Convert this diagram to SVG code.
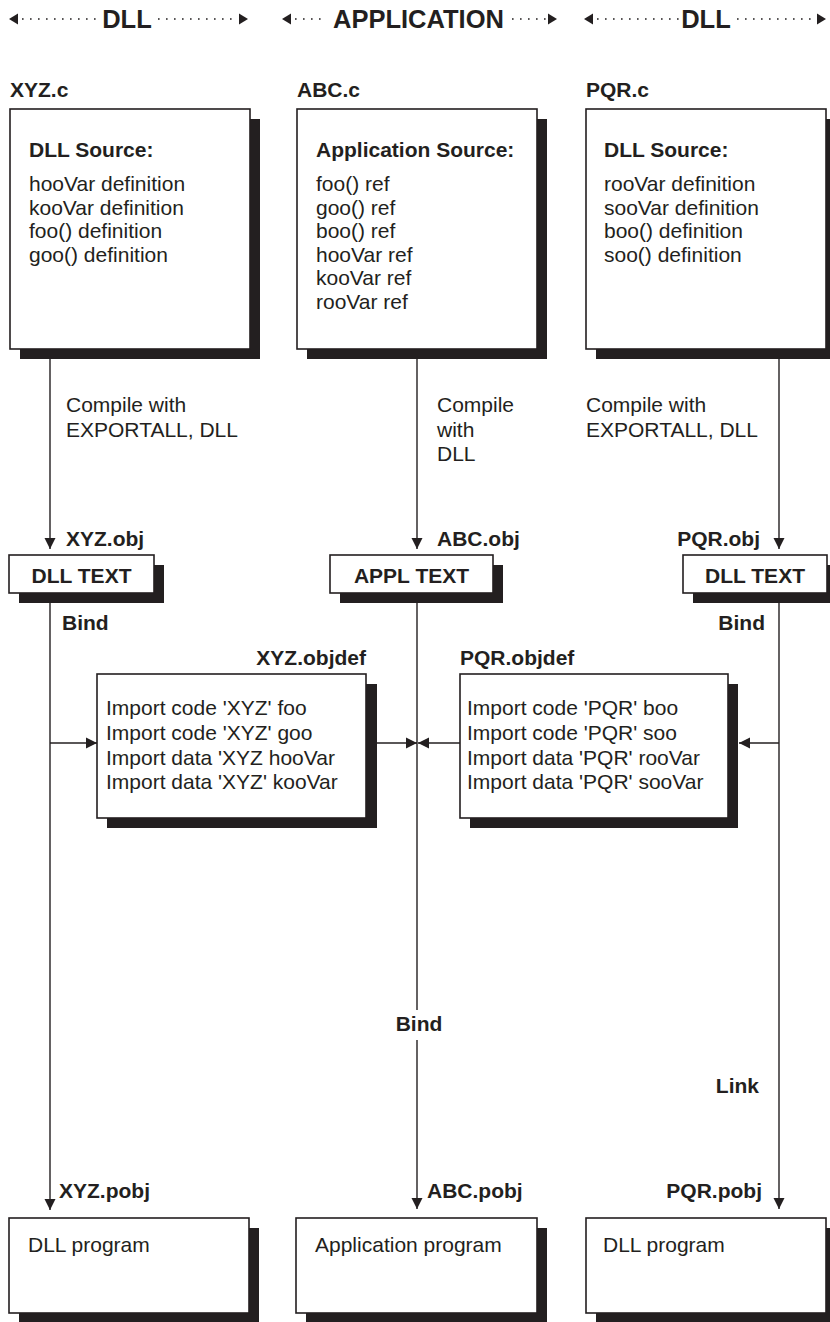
<svg xmlns="http://www.w3.org/2000/svg" width="830" height="1322" viewBox="0 0 830 1322">
<defs>
<style>
text{font-family:"Liberation Sans",Arial,Helvetica,sans-serif;fill:#231f20;font-size:21px}
.b{font-weight:bold}
.h{font-weight:bold;font-size:25.5px}
.box{fill:#fff;stroke:#231f20;stroke-width:1.6}
.sh{fill:#231f20}
.ln{stroke:#231f20;stroke-width:1.4;fill:none}
.arr{marker-end:url(#arr)}
.dot{stroke:#231f20;stroke-width:1.6;stroke-dasharray:1.6 6.4;fill:none}
.ah{fill:#231f20}
</style>
<marker id="arr" markerUnits="userSpaceOnUse" markerWidth="12" markerHeight="12" refX="11" refY="6" orient="auto"><path d="M0,0.5 L11,6 L0,11.5 z" fill="#231f20"/></marker>
</defs>
<rect width="830" height="1322" fill="#fff"/>

<g id="header">
<path class="ah" d="M9,19 L18,13.5 L18,24.5 z"/>
<line class="dot" x1="22" y1="19" x2="99" y2="19"/>
<text class="h" x="127" y="28" text-anchor="middle">DLL</text>
<line class="dot" x1="158" y1="19" x2="236" y2="19"/>
<path class="ah" d="M248,19 L239,13.5 L239,24.5 z"/>

<path class="ah" d="M282,19 L291,13.5 L291,24.5 z"/>
<line class="dot" x1="295" y1="19" x2="326" y2="19"/>
<text class="h" x="418.5" y="28" text-anchor="middle">APPLICATION</text>
<line class="dot" x1="512" y1="19" x2="546" y2="19"/>
<path class="ah" d="M557,19 L548,13.5 L548,24.5 z"/>

<path class="ah" d="M584,19 L593,13.5 L593,24.5 z"/>
<line class="dot" x1="597" y1="19" x2="680" y2="19"/>
<text class="h" x="706" y="28" text-anchor="middle">DLL</text>
<line class="dot" x1="737" y1="19" x2="815" y2="19"/>
<path class="ah" d="M826,19 L817,13.5 L817,24.5 z"/>
</g>

<g id="connectors">
<line class="ln arr" x1="50" y1="355" x2="50" y2="549"/>
<line class="ln arr" x1="50" y1="593" x2="50" y2="1210"/>
<line class="ln arr" x1="50" y1="743" x2="97" y2="743"/>
<line class="ln arr" x1="417" y1="355" x2="417" y2="549"/>
<line class="ln" x1="417" y1="593" x2="417" y2="1010"/>
<line class="ln arr" x1="417" y1="1040" x2="417" y2="1209"/>
<line class="ln arr" x1="377" y1="743" x2="417" y2="743"/>
<line class="ln arr" x1="460" y1="743" x2="418" y2="743"/>
<line class="ln arr" x1="779" y1="355" x2="779" y2="549"/>
<line class="ln arr" x1="779" y1="593" x2="779" y2="1209"/>
<line class="ln arr" x1="779" y1="743" x2="739" y2="743"/>
<text x="66" y="412">Compile with</text>
<text x="66" y="436.5">EXPORTALL, DLL</text>
<text x="437" y="412">Compile</text>
<text x="437" y="436.5">with</text>
<text x="437" y="461">DLL</text>
<text x="586" y="412">Compile with</text>
<text x="586" y="436.5">EXPORTALL, DLL</text>
<text class="b" x="62" y="630">Bind</text>
<text class="b" x="765" y="630" text-anchor="end">Bind</text>
<text class="b" x="419" y="1031" text-anchor="middle">Bind</text>
<text class="b" x="759" y="1093" text-anchor="end">Link</text>
</g>

<g id="xyz-c">
<text class="b" x="10" y="97">XYZ.c</text>
<rect class="sh" x="20" y="119" width="240" height="240"/>
<rect class="box" x="10" y="109" width="240" height="240"/>
<text class="b" x="29" y="157">DLL Source:</text>
<text x="29" y="191">hooVar definition</text>
<text x="29" y="214.5">kooVar definition</text>
<text x="29" y="238">foo() definition</text>
<text x="29" y="261.5">goo() definition</text>
</g>

<g id="abc-c">
<text class="b" x="297" y="97">ABC.c</text>
<rect class="sh" x="307" y="119" width="240" height="240"/>
<rect class="box" x="297" y="109" width="240" height="240"/>
<text class="b" x="316" y="157">Application Source:</text>
<text x="316" y="191">foo() ref</text>
<text x="316" y="214.5">goo() ref</text>
<text x="316" y="238">boo() ref</text>
<text x="316" y="261.5">hooVar ref</text>
<text x="316" y="285">kooVar ref</text>
<text x="316" y="308.5">rooVar ref</text>
</g>

<g id="pqr-c">
<text class="b" x="586" y="97">PQR.c</text>
<rect class="sh" x="596" y="119" width="240" height="240"/>
<rect class="box" x="586" y="109" width="240" height="240"/>
<text class="b" x="604" y="157">DLL Source:</text>
<text x="604" y="191">rooVar definition</text>
<text x="604" y="214.5">sooVar definition</text>
<text x="604" y="238">boo() definition</text>
<text x="604" y="261.5">soo() definition</text>
</g>

<g id="xyz-obj">
<text class="b" x="66" y="546">XYZ.obj</text>
<rect class="sh" x="19" y="565" width="145" height="38"/>
<rect class="box" x="9" y="555" width="145" height="38"/>
<text class="b" x="81.5" y="583" text-anchor="middle">DLL TEXT</text>
</g>

<g id="abc-obj">
<text class="b" x="437" y="546">ABC.obj</text>
<rect class="sh" x="340" y="565" width="163" height="38"/>
<rect class="box" x="330" y="555" width="163" height="38"/>
<text class="b" x="411.5" y="583" text-anchor="middle">APPL TEXT</text>
</g>

<g id="pqr-obj">
<text class="b" x="760" y="546" text-anchor="end">PQR.obj</text>
<rect class="sh" x="693" y="565" width="144" height="38"/>
<rect class="box" x="683" y="555" width="144" height="38"/>
<text class="b" x="755" y="583" text-anchor="middle">DLL TEXT</text>
</g>

<g id="xyz-objdef">
<text class="b" x="366" y="665" text-anchor="end">XYZ.objdef</text>
<rect class="sh" x="107" y="684" width="270" height="144"/>
<rect class="box" x="97" y="674" width="269" height="144"/>
<text x="106" y="715">Import code 'XYZ' foo</text>
<text x="106" y="740">Import code 'XYZ' goo</text>
<text x="106" y="764.5">Import data 'XYZ hooVar</text>
<text x="106" y="789">Import data 'XYZ' kooVar</text>
</g>

<g id="pqr-objdef">
<text class="b" x="460" y="665">PQR.objdef</text>
<rect class="sh" x="470" y="684" width="268" height="144"/>
<rect class="box" x="460" y="674" width="268" height="144"/>
<text x="467" y="715">Import code 'PQR' boo</text>
<text x="467" y="740">Import code 'PQR' soo</text>
<text x="467" y="764.5">Import data 'PQR' rooVar</text>
<text x="467" y="789">Import data 'PQR' sooVar</text>
</g>

<g id="xyz-pobj">
<text class="b" x="59" y="1198">XYZ.pobj</text>
<rect class="sh" x="19" y="1228" width="240" height="95"/>
<rect class="box" x="9" y="1218" width="240" height="95"/>
<text x="28" y="1252">DLL program</text>
</g>

<g id="abc-pobj">
<text class="b" x="427" y="1198">ABC.pobj</text>
<rect class="sh" x="306" y="1228" width="241" height="95"/>
<rect class="box" x="296" y="1218" width="241" height="95"/>
<text x="315" y="1252">Application program</text>
</g>

<g id="pqr-pobj">
<text class="b" x="762" y="1198" text-anchor="end">PQR.pobj</text>
<rect class="sh" x="596" y="1228" width="240" height="95"/>
<rect class="box" x="586" y="1218" width="240" height="95"/>
<text x="603" y="1252">DLL program</text>
</g>
</svg>
